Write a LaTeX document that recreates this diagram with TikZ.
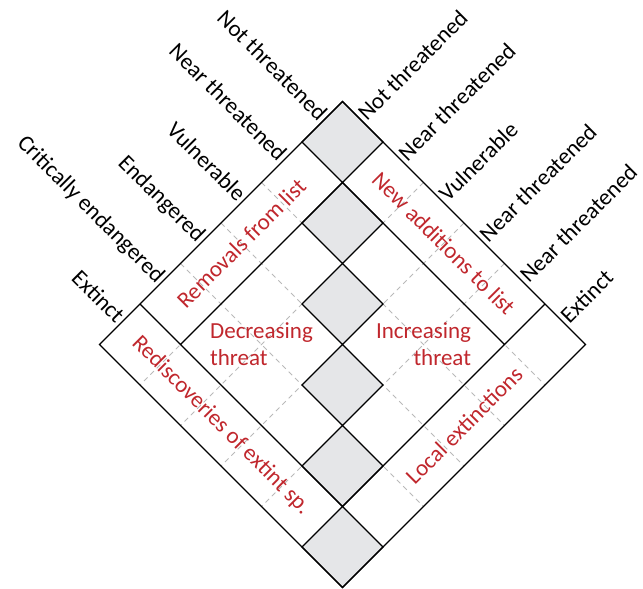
\documentclass[tikz,border=0pt]{standalone}
\usepackage{fontspec}
\setmainfont{Carlito}
\definecolor{myred}{RGB}{192,39,45}
\definecolor{mygray}{RGB}{229,230,232}
\definecolor{mydash}{RGB}{185,185,185}

\begin{document}
\begin{tikzpicture}[
	every node/.style={font=\fontsize{23}{27}\selectfont},
	leftcat/.style={anchor=east,rotate=-45,inner sep=3pt,text height=1.6ex,text depth=.3ex},
	rightcat/.style={anchor=west,rotate=45,inner sep=3pt,text height=1.6ex,text depth=.3ex},
	flow/.style={color=myred,inner sep=0pt}]
		\useasboundingbox (0,0) rectangle (643pt,589pt);
		
		\begin{scope}[shift={(342.5pt,487.5pt)},x={(-40.5pt,-40.5pt)},y={(40.5pt,-40.5pt)}]
		
		%Grid
		\foreach \k in {1,...,5}
			\draw[mydash,line width=0.9pt,dash pattern=on 5pt off 4pt]
			(\k,0) -- (\k,6) (0,\k) -- (6,\k);
		
		\foreach \k in {0,...,5}
			\draw[black,line width=1.2pt,fill=mygray]
			(\k,\k) -- (\k+1,\k) -- (\k+1,\k+1) -- (\k,\k+1) -- cycle;
		
		\draw[black,line width=1.2pt]
		(0,0) -- (6,0) -- (6,6) -- (0,6) -- cycle
		(1,1) -- (5,1) (5,0) -- (5,5)
		(1,1) -- (1,5) (0,5) -- (5,5);
		
		%Categories
		\foreach \lab [count=\i from 0] in {Not threatened,Near threatened,Vulnerable,Endangered,Critically endangered,Extinct}
			\node[leftcat] (old\i) at (\i+0.5,0) {\lab};
		\foreach \lab [count=\i from 0] in {Not threatened,Near threatened,Vulnerable,Near threatened,Near threatened,Extinct}
			\node[rightcat] (new\i) at (0,\i+0.5) {\lab};
		
		%Annotations
		\node[flow,rotate=45] (removals) at (3,0.5) {Removals from list};
		\node[flow,rotate=-45] (additions) at (0.5,3) {New additions to list};
		\node[flow,rotate=-45] (rediscoveries) at (5.5,2.5) {Rediscoveries of extint sp.};
		\node[flow,rotate=45] (extinctions) at (2.5,5.5) {Local extinctions};
		\node[flow,align=left] (decreasing) at (4,2) {Decreasing\\threat};
		\node[flow,align=right] (increasing) at (2,4) {Increasing\\threat};
		\end{scope}
\end{tikzpicture}
\end{document}
